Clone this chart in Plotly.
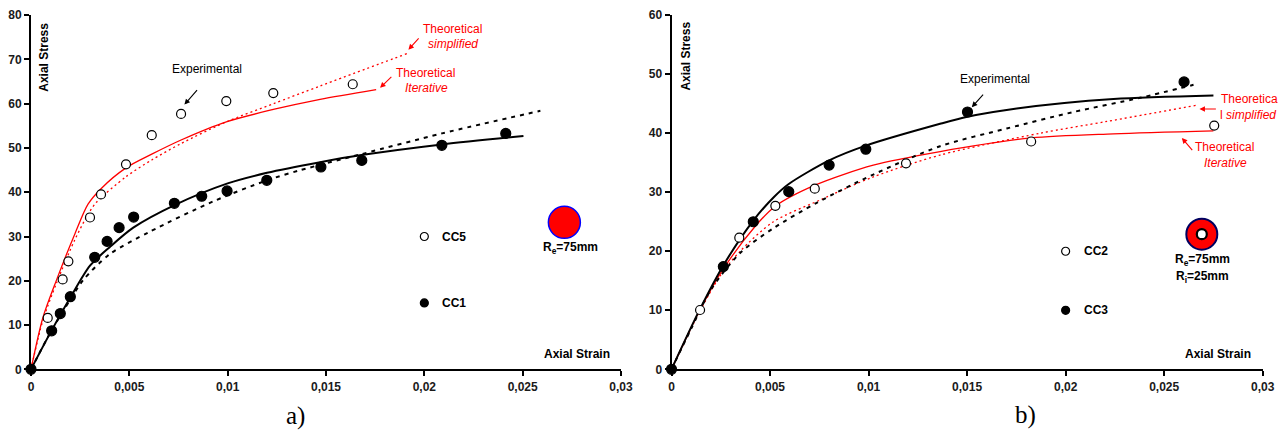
import plotly.graph_objects as go

# ---------------- Panel a) data ----------------
cc5_x = [0.00085, 0.00161, 0.0019, 0.0030, 0.00356, 0.00483, 0.00614, 0.00763, 0.00993, 0.01232, 0.01636]
cc5_y = [11.6, 20.3, 24.4, 34.3, 39.5, 46.3, 52.9, 57.7, 60.6, 62.4, 64.4]

cc1_x = [0, 0.00105, 0.00149, 0.002, 0.00324, 0.00387, 0.00448, 0.00522, 0.00729, 0.00868, 0.00997,
         0.01199, 0.01474, 0.01682, 0.02089, 0.02414]
cc1_y = [0, 8.7, 12.6, 16.4, 25.3, 28.9, 32.0, 34.4, 37.5, 39.1, 40.3, 42.7, 45.7, 47.2, 50.6, 53.3]

a_blk_sol_x = [0, 0.001, 0.002, 0.003, 0.004, 0.0052, 0.0073, 0.01, 0.012, 0.0147, 0.0168, 0.0209, 0.02504]
a_blk_sol_y = [0, 8.4, 16.2, 23.4, 27.6, 32.0, 37.1, 42.0, 44.4, 46.8, 48.4, 50.8, 52.7]

a_blk_dash_x = [0, 0.001, 0.002, 0.00266, 0.004, 0.006, 0.0093, 0.012, 0.0137, 0.0168, 0.0209, 0.0259]
a_blk_dash_y = [0, 8.4, 15.8, 20.2, 26.0, 31.0, 38.0, 42.7, 45.0, 48.6, 53.3, 58.4]

a_red_sol_x = [0, 0.0006, 0.0013, 0.00224, 0.0029, 0.00356, 0.00483, 0.00614, 0.00763, 0.00993,
               0.01232, 0.0147, 0.01755]
a_red_sol_y = [0, 11.6, 20.2, 30.7, 37.3, 40.8, 45.5, 48.6, 51.8, 55.9, 58.7, 61.0, 63.2]

a_red_dot_x = [0, 0.0006, 0.0013, 0.0022, 0.0029, 0.00334, 0.00483, 0.00614, 0.00763, 0.00993,
               0.01232, 0.0147, 0.01911]
a_red_dot_y = [0, 11.0, 19.5, 29.0, 35.0, 37.8, 43.5, 47.3, 51.0, 55.9, 60.0, 64.0, 71.3]

# ---------------- Panel b) data ----------------
cc3_x = [0, 0.00263, 0.00415, 0.00595, 0.0080, 0.00986, 0.01502, 0.02601]
cc3_y = [0, 17.4, 25.0, 30.1, 34.6, 37.3, 43.6, 48.7]

cc2_x = [0.00145, 0.00344, 0.00527, 0.00727, 0.0119, 0.01825, 0.02754]
cc2_y = [10.05, 22.3, 27.7, 30.6, 34.9, 38.6, 41.3]

b_blk_sol_x = [0, 0.0014, 0.00263, 0.00415, 0.0052, 0.00595, 0.008, 0.00986, 0.01363, 0.01502,
               0.01752, 0.02243, 0.0275]
b_blk_sol_y = [0, 9.9, 17.6, 25.2, 29.2, 31.4, 35.4, 37.9, 41.6, 42.8, 44.2, 45.8, 46.4]

b_blk_dash_x = [0, 0.001, 0.002, 0.00348, 0.00517, 0.00737, 0.01024, 0.01363, 0.01701, 0.0204, 0.02378, 0.02649]
b_blk_dash_y = [0, 6.9, 13.5, 19.7, 23.9, 28.2, 33.0, 37.8, 40.8, 43.6, 46.0, 48.2]

b_red_sol_x = [0, 0.0014, 0.00263, 0.00424, 0.00525, 0.00728, 0.01024, 0.01363, 0.01825, 0.02243, 0.0275]
b_red_sol_y = [0, 9.8, 17.0, 24.2, 27.6, 31.2, 34.6, 36.9, 39.2, 39.9, 40.4]

b_red_dot_x = [0, 0.0014, 0.00246, 0.00348, 0.00517, 0.00755, 0.01024, 0.01363, 0.0187, 0.0221, 0.02674]
b_red_dot_y = [0, 9.6, 15.8, 20.0, 25.0, 28.7, 32.6, 36.3, 40.0, 42.0, 44.8]

# legend-key markers and tick labels
key_x = [0.02]
a_key_open_y = [30]
a_key_fill_y = [15]
b_key_open_y = [20]
b_key_fill_y = [10]

x_tickvals = [0, 0.005, 0.01, 0.015, 0.02, 0.025, 0.03]
x_ticktext = ["0", "0,005", "0,01", "0,015", "0,02", "0,025", "0,03"]
a_y_tickvals = [0, 10, 20, 30, 40, 50, 60, 70, 80]
b_y_tickvals = [0, 10, 20, 30, 40, 50, 60]

FONT = "Liberation Sans, Arial, sans-serif"
RED = "#ff0000"

fig = go.Figure()


def line(x, y, color, width, dash, xa, ya):
    fig.add_trace(go.Scatter(x=x, y=y, mode="lines", xaxis=xa, yaxis=ya,
                             line=dict(color=color, width=width, dash=dash, shape="spline", smoothing=0.8),
                             hoverinfo="skip", showlegend=False))


def pts(x, y, filled, size, xa, ya):
    fig.add_trace(go.Scatter(x=x, y=y, mode="markers", xaxis=xa, yaxis=ya, cliponaxis=False,
                             marker=dict(size=size, color="black" if filled else "white",
                                         line=dict(color="black", width=1.2)),
                             hoverinfo="skip", showlegend=False))


# panel a
line(a_red_dot_x, a_red_dot_y, RED, 1.3, "2px,3px", "x", "y")
line(a_red_sol_x, a_red_sol_y, RED, 1.3, "solid", "x", "y")
line(a_blk_dash_x, a_blk_dash_y, "black", 2, "4px,5px", "x", "y")
line(a_blk_sol_x, a_blk_sol_y, "black", 2, "solid", "x", "y")
pts(cc5_x, cc5_y, False, 9, "x", "y")
pts(cc1_x, cc1_y, True, 10, "x", "y")
pts(key_x, a_key_open_y, False, 8, "x", "y")
pts(key_x, a_key_fill_y, True, 8, "x", "y")
# section icon (solid)
fig.add_trace(go.Scatter(x=[0.02712], y=[33.2], mode="markers", xaxis="x", yaxis="y",
                         marker=dict(size=32, color=RED, line=dict(color="#0000ff", width=1.5)),
                         hoverinfo="skip", showlegend=False))

# panel b
line(b_red_dot_x, b_red_dot_y, RED, 1.3, "2px,3px", "x2", "y2")
line(b_red_sol_x, b_red_sol_y, RED, 1.3, "solid", "x2", "y2")
line(b_blk_dash_x, b_blk_dash_y, "black", 2, "4px,5px", "x2", "y2")
line(b_blk_sol_x, b_blk_sol_y, "black", 2, "solid", "x2", "y2")
pts(cc2_x, cc2_y, False, 9, "x2", "y2")
pts(cc3_x, cc3_y, True, 10, "x2", "y2")
pts(key_x, b_key_open_y, False, 8, "x2", "y2")
pts(key_x, b_key_fill_y, True, 8, "x2", "y2")
# section icon (hollow)
fig.add_trace(go.Scatter(x=[0.02691], y=[22.9], mode="markers", xaxis="x2", yaxis="y2",
                         marker=dict(size=31, color=RED, line=dict(color="#000060", width=2)),
                         hoverinfo="skip", showlegend=False))
fig.add_trace(go.Scatter(x=[0.02691], y=[22.9], mode="markers", xaxis="x2", yaxis="y2",
                         marker=dict(size=10, color="white", line=dict(color="black", width=2.2)),
                         hoverinfo="skip", showlegend=False))

axis_common = dict(showgrid=False, zeroline=False, showline=True, linecolor="black", linewidth=2,
                   ticks="outside", ticklen=5, tickwidth=2, tickcolor="black",
                   tickfont=dict(family=FONT, size=12, color="#1a1a1a", weight="bold"),
                   layer="below traces", fixedrange=True, automargin=False)
ydom = [1 - 369.3 / 432, 1 - 15.2 / 432]

fig.update_layout(
    width=1280, height=432, margin=dict(l=0, r=0, t=0, b=0, autoexpand=False),
    paper_bgcolor="white", plot_bgcolor="white", showlegend=False,
    xaxis=dict(domain=[31 / 1280, 621 / 1280], range=[0, 0.03], tickvals=x_tickvals, ticktext=x_ticktext,
               anchor="y", **axis_common),
    yaxis=dict(domain=ydom, range=[0, 80], tickvals=a_y_tickvals, anchor="x", **axis_common),
    xaxis2=dict(domain=[671.5 / 1280, 1262.7 / 1280], range=[0, 0.03], tickvals=x_tickvals,
                ticktext=x_ticktext, anchor="y2", **axis_common),
    yaxis2=dict(domain=ydom, range=[0, 60], tickvals=b_y_tickvals, anchor="x2", **axis_common),
)

ann = []


def txt(x, y, text, xr, yr, size=12, color="black", xanchor="center", angle=0, family=FONT):
    ann.append(dict(x=x, y=y, xref=xr, yref=yr, text=text, showarrow=False, xanchor=xanchor,
                    yanchor="middle", textangle=angle,
                    font=dict(family=family, size=size, color=color)))


def arrow(hx, hy, tx, ty, xr, yr, color):
    ann.append(dict(x=hx, y=hy, ax=tx, ay=ty, xref=xr, yref=yr, axref=xr, ayref=yr, text="",
                    showarrow=True, arrowhead=2, arrowsize=1, arrowwidth=1.1, arrowcolor=color,
                    standoff=0, startstandoff=0))


# panel a annotations
txt(0.00066, 70.6, "<b>Axial Stress</b>", "x", "y", angle=-90)
txt(0.02775, 3.45, "<b>Axial Strain</b>", "x", "y")
txt(0.00895, 67.8, "Experimental", "x", "y")
arrow(0.0078, 59.8, 0.00851, 63.4, "x", "y", "black")
txt(0.02145, 76.8, "Theoretical", "x", "y", color=RED)
txt(0.02145, 73.6, "<i>simplified</i>", "x", "y", color=RED)
arrow(0.01919, 72.2, 0.01978, 75.1, "x", "y", RED)
txt(0.02005, 67.0, "Theoretical", "x", "y", color=RED)
txt(0.02009, 63.6, "<i>Iterative</i>", "x", "y", color=RED)
arrow(0.01775, 63.6, 0.0184, 66.4, "x", "y", RED)
txt(0.0208, 30, "<b>CC5</b>", "x", "y", xanchor="left")
txt(0.0208, 15, "<b>CC1</b>", "x", "y", xanchor="left")
txt(0.02745, 27.5, "<b>R<sub>e</sub>=75mm</b>", "x", "y")

# panel b annotations
txt(0.00069, 53.0, "<b>Axial Stress</b>", "x2", "y2", angle=-90)
txt(0.02773, 2.6, "<b>Axial Strain</b>", "x2", "y2")
txt(0.01642, 49.2, "Experimental", "x2", "y2")
arrow(0.01524, 44.4, 0.01588, 46.8, "x2", "y2", "black")
txt(0.0278, 45.8, "Theoretica", "x2", "y2", color=RED, xanchor="left")
txt(0.02773, 43.1, "l <i>simplified</i>", "x2", "y2", color=RED, xanchor="left")
arrow(0.02679, 44.1, 0.0277, 44.1, "x2", "y2", RED)
txt(0.02806, 37.6, "Theoretical", "x2", "y2", color=RED)
txt(0.0281, 35.0, "<i>Iterative</i>", "x2", "y2", color=RED)
arrow(0.0259, 39.2, 0.02649, 36.9, "x2", "y2", RED)
txt(0.02082, 20, "<b>CC2</b>", "x2", "y2", xanchor="left")
txt(0.02082, 10, "<b>CC3</b>", "x2", "y2", xanchor="left")
txt(0.02694, 18.5, "<b>R<sub>e</sub>=75mm</b>", "x2", "y2")
txt(0.02694, 15.6, "<b>R<sub>i</sub>=25mm</b>", "x2", "y2")

# panel labels
txt(295 / 1280, 1 - 416 / 432, "a)", "paper", "paper", size=25, family="Liberation Serif, Times New Roman, serif")
txt(1025 / 1280, 1 - 415 / 432, "b)", "paper", "paper", size=25, family="Liberation Serif, Times New Roman, serif")

fig.update_layout(annotations=ann)
fig.write_html("out.html", config={"displayModeBar": False},
               post_script="document.body.style.margin='0px';document.body.style.overflow='hidden';")
